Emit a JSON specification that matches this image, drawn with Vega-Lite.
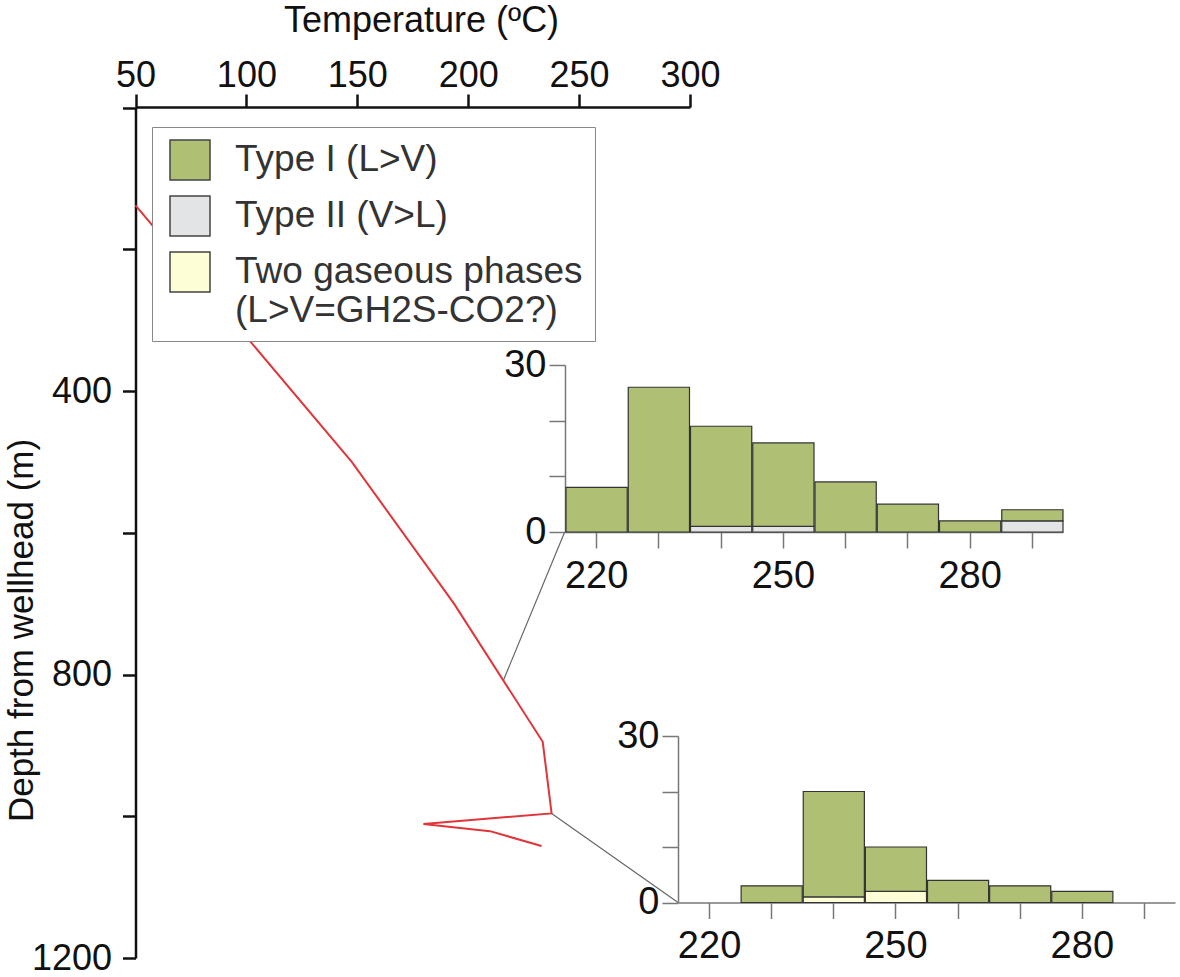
{
  "$schema": "https://vega.github.io/schema/vega-lite/v6.json",
  "width": 1180,
  "height": 977,
  "padding": 0,
  "autosize": "none",
  "background": "white",
  "config": {
    "view": {"stroke": null},
    "font": "Liberation Sans",
    "axis": {"labelFont": "Liberation Sans", "titleFont": "Liberation Sans", "grid": false, "titleFontWeight": "normal"},
    "legend": {"labelFont": "Liberation Sans"}
  },
  "layer": [
    {
      "layer": [
        {
          "data": {"values": [
            {"temp": 50, "depth": 138},
            {"temp": 147.5, "depth": 500},
            {"temp": 193.6, "depth": 700},
            {"temp": 233.6, "depth": 895},
            {"temp": 237.6, "depth": 996},
            {"temp": 179.8, "depth": 1011},
            {"temp": 209.8, "depth": 1021},
            {"temp": 233.1, "depth": 1042}
          ]},
          "mark": {"type": "line", "color": "#E0363B", "strokeWidth": 2},
          "encoding": {
            "x": {"field": "temp", "type": "quantitative",
              "scale": {"domain": [50, 300], "range": [135.5, 690], "nice": false, "zero": false},
              "axis": {"orient": "top", "offset": -107, "values": [50, 100, 150, 200, 250, 300],
                "tickSize": 13, "tickWidth": 2.5, "domainWidth": 2.5, "domainColor": "#111", "tickColor": "#111",
                "labelFontSize": 36, "labelColor": "#111", "labelPadding": 0, "labelFlush": false,
                "title": "Temperature (ºC)", "titleFontSize": 36, "titleColor": "#111",
                "titleX": 421, "titleY": -76, "titleBaseline": "alphabetic", "titleAnchor": "middle"}},
            "y": {"field": "depth", "type": "quantitative",
              "scale": {"domain": [0, 1200], "range": [107.5, 958], "nice": false, "zero": false},
              "axis": {"orient": "left", "offset": -135.5, "values": [0, 200, 400, 600, 800, 1000, 1200], "format": "d",
                "labelExpr": "datum.value > 0 && datum.value % 400 == 0 ? datum.label : ''",
                "tickSize": 13, "tickWidth": 2.5, "domainWidth": 2.5, "domainColor": "#111", "tickColor": "#111",
                "labelFontSize": 36, "labelColor": "#111", "labelPadding": 11, "labelFlush": false,
                "title": "Depth from wellhead (m)", "titleFontSize": 35, "titleColor": "#111",
                "titleX": -96, "titleY": 630, "titleAngle": -90, "titleBaseline": "bottom", "titleAnchor": "middle"}},
            "order": {"field": "depth", "type": "quantitative"}
          }
        },
        {
          "data": {"values": [
            {"t1": 215.9, "d1": 808, "t2": 243.5, "d2": 599},
            {"t1": 237.6, "d1": 996, "t2": 294.6, "d2": 1121.7}
          ]},
          "mark": {"type": "rule", "color": "#666", "strokeWidth": 1.2},
          "encoding": {
            "x": {"field": "t1", "type": "quantitative"},
            "y": {"field": "d1", "type": "quantitative"},
            "x2": {"field": "t2"},
            "y2": {"field": "d2"}
          }
        }
      ]
    },
    {
      "data": {"values": [
        {"lo": 215, "hi": 225, "type": "Type I (L>V)", "count": 8},
        {"lo": 225, "hi": 235, "type": "Type I (L>V)", "count": 26},
        {"lo": 235, "hi": 245, "type": "Type II (V>L)", "count": 1},
        {"lo": 235, "hi": 245, "type": "Type I (L>V)", "count": 18},
        {"lo": 245, "hi": 255, "type": "Type II (V>L)", "count": 1},
        {"lo": 245, "hi": 255, "type": "Type I (L>V)", "count": 15},
        {"lo": 255, "hi": 265, "type": "Type I (L>V)", "count": 9},
        {"lo": 265, "hi": 275, "type": "Type I (L>V)", "count": 5},
        {"lo": 275, "hi": 285, "type": "Type I (L>V)", "count": 2},
        {"lo": 285, "hi": 295, "type": "Type II (V>L)", "count": 2},
        {"lo": 285, "hi": 295, "type": "Type I (L>V)", "count": 2}
      ]},
      "mark": {"type": "bar", "stroke": "#333", "strokeWidth": 1.2},
      "encoding": {
        "x": {"field": "lo", "type": "quantitative", "bin": {"binned": true, "step": 10},
          "scale": {"domain": [215, 295], "range": [565, 1063], "nice": false, "zero": false},
          "axis": {"orient": "bottom", "offset": -445, "values": [220, 230, 240, 250, 260, 270, 280, 290],
            "labelExpr": "datum.value % 30 == 10 ? datum.label : ''",
            "tickSize": 16, "tickWidth": 1.5, "domainWidth": 1.5, "domainColor": "#777", "tickColor": "#777",
            "labelFontSize": 38, "labelColor": "#111", "labelPadding": 9, "labelFlush": false, "title": null}},
        "x2": {"field": "hi"},
        "y": {"field": "count", "type": "quantitative", "stack": "zero",
          "scale": {"domain": [0, 30], "range": [532, 365], "nice": false},
          "axis": {"orient": "left", "offset": -565, "values": [0, 10, 20, 30],
            "labelExpr": "datum.value % 30 == 0 ? datum.label : ''",
            "tickSize": 16, "tickWidth": 1.5, "domainWidth": 1.5, "domainColor": "#777", "tickColor": "#777",
            "labelFontSize": 38, "labelColor": "#111", "labelPadding": 3, "labelFlush": false, "title": null}},
        "color": {"field": "type", "type": "nominal",
          "scale": {"domain": ["Type I (L>V)", "Type II (V>L)", "Two gaseous phases (L>V=GH2S-CO2?)"],
            "range": ["#AFBF74", "#E3E4E6", "#FDFDD6"]},
          "legend": {"orient": "none", "legendX": 152, "legendY": 127, "title": null,
            "padding": 12, "fillColor": "white", "strokeColor": "#888", "symbolOffset": 5,
            "symbolType": "square", "symbolSize": 1600, "symbolStrokeColor": "#444", "symbolStrokeWidth": 1.5,
            "labelFontSize": 37, "labelColor": "#333", "labelOffset": 24, "labelLimit": 600, "rowPadding": 10,
            "labelExpr": "substring(datum.label, 0, 3) == 'Two' ? ['Two gaseous phases', '(L>V=GH2S-CO2?)'] : datum.label"}},
        "order": {"field": "count", "type": "quantitative", "sort": "ascending"}
      }
    },
    {
      "data": {"values": [
        {"lo": 225, "hi": 235, "type": "Type I (L>V)", "count": 3},
        {"lo": 235, "hi": 245, "type": "Two gaseous phases (L>V=GH2S-CO2?)", "count": 1},
        {"lo": 235, "hi": 245, "type": "Type I (L>V)", "count": 19},
        {"lo": 245, "hi": 255, "type": "Two gaseous phases (L>V=GH2S-CO2?)", "count": 2},
        {"lo": 245, "hi": 255, "type": "Type I (L>V)", "count": 8},
        {"lo": 255, "hi": 265, "type": "Type I (L>V)", "count": 4},
        {"lo": 265, "hi": 275, "type": "Type I (L>V)", "count": 3},
        {"lo": 275, "hi": 285, "type": "Type I (L>V)", "count": 2}
      ]},
      "mark": {"type": "bar", "stroke": "#333", "strokeWidth": 1.2},
      "encoding": {
        "x": {"field": "lo", "type": "quantitative", "bin": {"binned": true, "step": 10},
          "scale": {"domain": [215, 295], "range": [678, 1175], "nice": false, "zero": false},
          "axis": {"orient": "bottom", "offset": -74.5, "values": [220, 230, 240, 250, 260, 270, 280, 290],
            "labelExpr": "datum.value % 30 == 10 ? datum.label : ''",
            "tickSize": 16, "tickWidth": 1.5, "domainWidth": 1.5, "domainColor": "#777", "tickColor": "#777",
            "labelFontSize": 38, "labelColor": "#111", "labelPadding": 9, "labelFlush": false, "title": null}},
        "x2": {"field": "hi"},
        "y": {"field": "count", "type": "quantitative", "stack": "zero",
          "scale": {"domain": [0, 30], "range": [902.5, 736], "nice": false},
          "axis": {"orient": "left", "offset": -678, "values": [0, 10, 20, 30],
            "labelExpr": "datum.value % 30 == 0 ? datum.label : ''",
            "tickSize": 16, "tickWidth": 1.5, "domainWidth": 1.5, "domainColor": "#777", "tickColor": "#777",
            "labelFontSize": 38, "labelColor": "#111", "labelPadding": 3, "labelFlush": false, "title": null}},
        "color": {"field": "type", "type": "nominal",
          "scale": {"domain": ["Type I (L>V)", "Type II (V>L)", "Two gaseous phases (L>V=GH2S-CO2?)"],
            "range": ["#AFBF74", "#E3E4E6", "#FDFDD6"]},
          "legend": {"orient": "none", "legendX": 152, "legendY": 127, "title": null,
            "padding": 12, "fillColor": "white", "strokeColor": "#888", "symbolOffset": 5,
            "symbolType": "square", "symbolSize": 1600, "symbolStrokeColor": "#444", "symbolStrokeWidth": 1.5,
            "labelFontSize": 37, "labelColor": "#333", "labelOffset": 24, "labelLimit": 600, "rowPadding": 10,
            "labelExpr": "substring(datum.label, 0, 3) == 'Two' ? ['Two gaseous phases', '(L>V=GH2S-CO2?)'] : datum.label"}},
        "order": {"field": "count", "type": "quantitative", "sort": "ascending"}
      }
    }
  ],
  "resolve": {"scale": {"x": "independent", "y": "independent"}}
}
